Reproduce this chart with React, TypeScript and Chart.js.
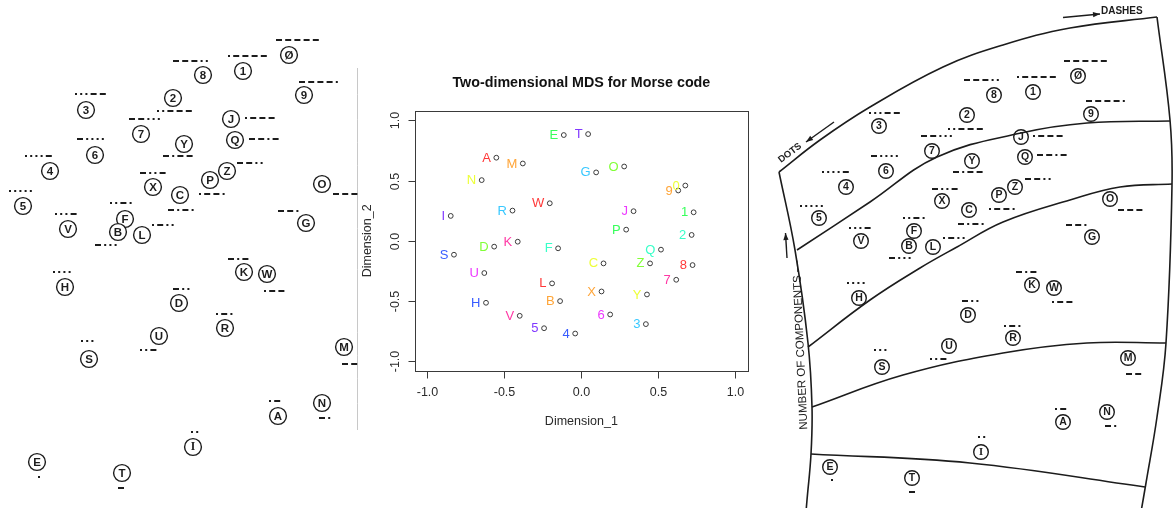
import React, { useEffect, useRef } from "react";
import { Chart, registerables } from "chart.js";
Chart.register(...registerables);

const FONT = '"Liberation Sans", Arial, sans-serif';

// ---------------- middle panel: R MDS plot ----------------
const MDS_LABELS = ["A","B","C","D","E","F","G","H","I","J","K","L","M","N","O","P","Q","R","S","T","U","V","W","X","Y","Z","1","2","3","4","5","6","7","8","9","0"];
const DIM_1 = [-0.552,-0.138,0.144,-0.566,-0.114,-0.151,0.096,-0.619,-0.848,0.339,-0.413,-0.19,-0.38,-0.647,0.278,0.291,0.517,-0.447,-0.827,0.044,-0.63,-0.4,-0.205,0.131,0.426,0.446,0.729,0.716,0.419,-0.04,-0.242,0.187,0.616,0.722,0.629,0.675];
const DIM_2 = [0.69,-0.5,-0.187,-0.048,0.878,-0.062,0.568,-0.514,0.207,0.246,-0.007,-0.353,0.642,0.504,0.617,0.093,-0.073,0.251,-0.115,0.886,-0.267,-0.622,0.312,-0.42,-0.445,-0.187,0.237,0.049,-0.691,-0.769,-0.725,-0.611,-0.323,-0.201,0.418,0.459];
const RAINBOW_11 = ["#FF0000","#FF8B00","#E8FF00","#5DFF00","#00FF2E","#00FFB9","#00B9FF","#002EFF","#5D00FF","#E800FF","#FF008B"];
const AXIS_TICKS = [-1, -0.5, 0, 0.5, 1];
const TICK_LABELS = ["-1.0", "-0.5", "0.0", "0.5", "1.0"];
const AXIS_MIN = -1.08;
const AXIS_MAX = 1.08;
const MDS_TITLE = "Two-dimensional MDS for Morse code";
const X_TITLE = "Dimension_1";
const Y_TITLE = "Dimension_2";

// ---------------- left panel: scanned configuration ----------------
const LEFT_SYMBOLS = ["Ø","1","8","2","9","3","J","7","Q","Y","6","4","Z","P","X","O","C","5","F","V","G","B","L","K","W","H","D","R","U","S","M","A","N","I","E","T"];
const LEFT_X = [289,243,203,173,304,86,231,141,235,184,95,50,227,210,153,322,180,23,125,68,306,118,142,244,267,65,179,225,159,89,344,278,322,193,37,122];
const LEFT_Y = [55,71,75,98,95,110,119,134,140,144,155,171,171,180,187,184,195,206,219,229,223,232,235,272,274,287,303,328,336,359,347,416,403,447,462,473];
const LEFT_MORSE = ["-----",".----","---..","..---","----.","...--",".---","--...","--.-","-.--","-....","....-","--..",".--.","-..-","---","-.-.",".....","..-.","...-","--.","-...",".-..","-.-",".--","....","-..",".-.","..-","...","--",".-","-.","..",".","-"];
const LEFT_MX = [276,228,173,157,299,75,245,129,249,163,77,25,237,199,140,333,168,9,110,55,278,95,152,228,264,53,173,216,140,81,342,269,319,191,38,118];
const LEFT_MY = [40,56,61,111,82,94,118,119,139,156,139,156,163,194,173,194,210,191,203,214,211,245,225,259,291,272,289,314,350,341,364,401,418,432,477,488];
const LEFT_EDGE: number[][] = [[357.5, 68], [357.5, 430]];

// ---------------- right panel: Shepard's diagram ----------------
const RIGHT_SYMBOLS = ["Ø","1","8","9","2","3","J","7","Q","Y","6","4","Z","P","X","O","C","5","F","V","G","B","L","H","K","W","D","R","U","S","M","A","N","I","E","T"];
const RIGHT_X = [1078,1033,994,1091,967,879,1021,932,1025,972,886,846,1015,999,942,1110,969,819,914,861,1092,909,933,859,1032,1054,968,1013,949,882,1128,1063,1107,981,830,912];
const RIGHT_Y = [76,92,95,114,115,126,137,151,157,161,171,187,187,195,201,199,210,218,231,241,237,246,247,298,285,288,315,338,346,367,358,422,412,452,467,478];
const RIGHT_MORSE = ["-----",".----","---..","----.","..---","...--",".---","--...","--.-","-.--","-....","....-","--..",".--.","-..-","---","-.-.",".....","..-.","...-","--.","-...",".-..","....","-.-",".--","-..",".-.","..-","...","--",".-","-.","..",".","-"];
const RIGHT_MX = [1064,1017,964,1086,948,869,1033,921,1037,953,871,822,1025,989,932,1118,958,800,903,849,1066,889,943,847,1016,1052,962,1004,930,874,1126,1055,1105,978,831,909];
const RIGHT_MY = [61,77,80,101,129,113,136,136,155,172,156,172,179,209,189,210,224,206,218,228,225,258,238,283,272,302,301,326,359,350,374,409,426,437,480,492];
const CURVE_TOP: number[][] = [[779,172],[820,140],[870,107],[943,67],[1003,45],[1070,28],[1157,17]];
const CURVE_LEFT: number[][] = [[779,172],[795,250],[808,343],[812,407],[811,454],[807,500],[806,512]];
const CURVE_RIGHT: number[][] = [[1157,17],[1170,120],[1172,185],[1166,343],[1157,417],[1146,483],[1141,512]];
const CURVE_1: number[][] = [[797,250],[870,202],[937,157],[1021,133],[1087,123],[1170,121]];
const CURVE_2: number[][] = [[808,347],[870,300],[920,268],[957,247],[1003,222],[1070,200],[1120,187],[1172,184]];
const CURVE_3: number[][] = [[812,407],[903,375],[1003,353],[1087,343],[1166,343]];
const CURVE_4: number[][] = [[811,454],[970,463],[1145,487]];

function lighten(hex: string, amt: number) {
  const n = parseInt(hex.slice(1), 16);
  const r = (n >> 16) & 255, g = (n >> 8) & 255, b = n & 255;
  const m = (c: number) => Math.round(c + (255 - c) * amt);
  return `rgb(${m(r)},${m(g)},${m(b)})`;
}

function drawMorse(ctx: CanvasRenderingContext2D, code: string, x: number, y: number) {
  const dot = 2, dash = 6, gap = 3.2, th = 2;
  let cx = x;
  for (const ch of code) {
    const w = ch === "." ? dot : dash;
    ctx.fillRect(cx, y - th / 2, w, th);
    cx += w + gap;
  }
}

function drawArrow(ctx: CanvasRenderingContext2D, x1: number, y1: number, x2: number, y2: number) {
  ctx.beginPath();
  ctx.moveTo(x1, y1);
  ctx.lineTo(x2, y2);
  ctx.stroke();
  const a = Math.atan2(y2 - y1, x2 - x1);
  const L = 7, Wd = 2.6;
  ctx.beginPath();
  ctx.moveTo(x2, y2);
  ctx.lineTo(x2 - L * Math.cos(a) + Wd * Math.sin(a), y2 - L * Math.sin(a) - Wd * Math.cos(a));
  ctx.lineTo(x2 - L * Math.cos(a) - Wd * Math.sin(a), y2 - L * Math.sin(a) + Wd * Math.cos(a));
  ctx.closePath();
  ctx.fill();
}

function sideChart(
  canvas: HTMLCanvasElement,
  xMin: number, xMax: number,
  symbols: string[], xs: number[], ys: number[],
  morse: string[], mxs: number[], mys: number[],
  curves: { pts: number[][]; color: string; width: number }[],
  radius: number, letterFont: string,
  extra?: (ctx: CanvasRenderingContext2D, sx: any, sy: any) => void
) {
  const labelPlugin = {
    id: "circledLabels",
    afterDatasetsDraw(chart: any) {
      const ctx = chart.ctx as CanvasRenderingContext2D;
      const sx = chart.scales.x, sy = chart.scales.y;
      ctx.save();
      ctx.fillStyle = "#1c1c1c";
      ctx.textAlign = "center";
      ctx.textBaseline = "middle";
      symbols.forEach((s, i) => {
        const px = sx.getPixelForValue(xs[i]);
        const py = sy.getPixelForValue(ys[i]);
        ctx.font = s === "I" ? `bold ${letterFont} "Liberation Serif", serif` : `bold ${letterFont} ${FONT}`;
        ctx.fillText(s, px, py + 0.5);
        drawMorse(ctx, morse[i], sx.getPixelForValue(mxs[i]), sy.getPixelForValue(mys[i]));
      });
      if (extra) extra(ctx, sx, sy);
      ctx.restore();
    },
  };
  return new Chart(canvas, {
    type: "scatter",
    data: {
      datasets: [
        ...curves.map((c) => ({
          data: c.pts.map((p) => ({ x: p[0], y: p[1] })),
          showLine: true,
          tension: 0.4,
          pointRadius: 0,
          borderColor: c.color,
          borderWidth: c.width,
          fill: false,
          clip: false,
        })),
        {
          data: xs.map((x, i) => ({ x, y: ys[i] })),
          pointRadius: radius,
          pointHoverRadius: radius,
          borderWidth: 1.4,
          borderColor: "#1c1c1c",
          backgroundColor: "#ffffff",
          clip: false,
        },
      ],
    },
    options: {
      animation: false,
      responsive: false,
      events: [],
      layout: { padding: 0, autoPadding: false },
      plugins: { legend: { display: false }, tooltip: { enabled: false }, title: { display: false } },
      scales: {
        x: { type: "linear", display: false, min: xMin, max: xMax },
        y: { type: "linear", display: false, min: 0, max: 508, reverse: true },
      },
    } as any,
    plugins: [labelPlugin],
  });
}

export default function App() {
  const leftRef = useRef<HTMLCanvasElement>(null);
  const midRef = useRef<HTMLCanvasElement>(null);
  const rightRef = useRef<HTMLCanvasElement>(null);

  useEffect(() => {
    const charts: Chart[] = [];

    // ---- middle chart
    const mdsPlugin = {
      id: "rStyle",
      afterDatasetsDraw(chart: any) {
        const ctx = chart.ctx as CanvasRenderingContext2D;
        const sx = chart.scales.x, sy = chart.scales.y;
        ctx.save();
        ctx.font = `13px ${FONT}`;
        ctx.textAlign = "right";
        ctx.textBaseline = "middle";
        MDS_LABELS.forEach((lab, i) => {
          ctx.fillStyle = lighten(RAINBOW_11[i % 11], 0.22);
          ctx.fillText(lab, sx.getPixelForValue(DIM_1[i]) - 5.5, sy.getPixelForValue(DIM_2[i]) + 0.5);
        });
        ctx.restore();
      },
      afterDraw(chart: any) {
        const ctx = chart.ctx as CanvasRenderingContext2D;
        const ca = chart.chartArea;
        const sx = chart.scales.x, sy = chart.scales.y;
        ctx.save();
        ctx.strokeStyle = "#3a3a3a";
        ctx.lineWidth = 1;
        const l = Math.round(ca.left) + 0.5, t = Math.round(ca.top) + 0.5;
        const r = Math.round(ca.right) + 0.5, b = Math.round(ca.bottom) + 0.5;
        ctx.strokeRect(l, t, r - l, b - t);
        ctx.fillStyle = "#2a2a2a";
        ctx.font = `12.5px ${FONT}`;
        ctx.textAlign = "center";
        ctx.textBaseline = "middle";
        AXIS_TICKS.forEach((v, i) => {
          const px = Math.round(sx.getPixelForValue(v)) + 0.5;
          ctx.beginPath();
          ctx.moveTo(px, b);
          ctx.lineTo(px, b + 7);
          ctx.stroke();
          ctx.fillText(TICK_LABELS[i], px, b + 21);
        });
        AXIS_TICKS.forEach((v, i) => {
          const py = Math.round(sy.getPixelForValue(v)) + 0.5;
          ctx.beginPath();
          ctx.moveTo(l, py);
          ctx.lineTo(l - 7, py);
          ctx.stroke();
          ctx.save();
          ctx.translate(l - 20, py);
          ctx.rotate(-Math.PI / 2);
          ctx.fillText(TICK_LABELS[i], 0, 0);
          ctx.restore();
        });
        const cx = (ca.left + ca.right) / 2;
        const cy = (ca.top + ca.bottom) / 2;
        ctx.fillText(X_TITLE, cx, b + 50);
        ctx.save();
        ctx.translate(l - 48, cy);
        ctx.rotate(-Math.PI / 2);
        ctx.fillText(Y_TITLE, 0, 0);
        ctx.restore();
        ctx.fillStyle = "#111";
        ctx.font = `bold 14.3px ${FONT}`;
        ctx.fillText(MDS_TITLE, cx, ca.top - 28);
        ctx.restore();
      },
    };
    if (midRef.current) {
      charts.push(
        new Chart(midRef.current, {
          type: "scatter",
          data: {
            datasets: [
              {
                data: DIM_1.map((x, i) => ({ x, y: DIM_2[i] })),
                pointRadius: 2.4,
                pointHoverRadius: 2.4,
                borderWidth: 1,
                borderColor: "#3a3a3a",
                backgroundColor: "rgba(0,0,0,0)",
              },
            ],
          },
          options: {
            animation: false,
            responsive: false,
            events: [],
            layout: { padding: { left: 55, right: 22.3, top: 110.7, bottom: 137 }, autoPadding: false },
            plugins: { legend: { display: false }, tooltip: { enabled: false } },
            scales: {
              x: { type: "linear", display: false, min: AXIS_MIN, max: AXIS_MAX },
              y: { type: "linear", display: false, min: AXIS_MIN, max: AXIS_MAX },
            },
          } as any,
          plugins: [mdsPlugin],
        })
      );
    }

    // ---- left chart
    if (leftRef.current) {
      charts.push(
        sideChart(
          leftRef.current, 0, 360,
          LEFT_SYMBOLS, LEFT_X, LEFT_Y, LEFT_MORSE, LEFT_MX, LEFT_MY,
          [{ pts: LEFT_EDGE, color: "#c8c8c8", width: 1 }],
          8.4, "11.5px"
        )
      );
    }

    // ---- right chart
    if (rightRef.current) {
      const curveStyle = (pts: number[][]) => ({ pts, color: "#1c1c1c", width: 1.6 });
      charts.push(
        sideChart(
          rightRef.current, 770, 1176,
          RIGHT_SYMBOLS, RIGHT_X, RIGHT_Y, RIGHT_MORSE, RIGHT_MX, RIGHT_MY,
          [CURVE_TOP, CURVE_LEFT, CURVE_RIGHT, CURVE_1, CURVE_2, CURVE_3, CURVE_4].map(curveStyle),
          7.3, "10.5px",
          (ctx, sx, sy) => {
            const X = (v: number) => sx.getPixelForValue(v);
            const Y = (v: number) => sy.getPixelForValue(v);
            ctx.fillStyle = "#1c1c1c";
            ctx.strokeStyle = "#1c1c1c";
            ctx.lineWidth = 1.4;
            ctx.font = `bold 10px ${FONT}`;
            ctx.textAlign = "left";
            ctx.textBaseline = "middle";
            ctx.fillText("DASHES", X(1101), Y(11));
            drawArrow(ctx, X(1063), Y(17.5), X(1100), Y(14));
            ctx.save();
            ctx.translate(X(790), Y(153));
            ctx.rotate((-37 * Math.PI) / 180);
            ctx.textAlign = "center";
            ctx.font = `bold 9.5px ${FONT}`;
            ctx.fillText("DOTS", 0, 0);
            ctx.restore();
            drawArrow(ctx, X(834), Y(122), X(806), Y(142));
            ctx.save();
            ctx.translate(X(800.5), Y(345));
            ctx.rotate((-92.5 * Math.PI) / 180);
            ctx.textAlign = "center";
            ctx.font = `11.5px ${FONT}`;
            ctx.fillText("NUMBER OF COMPONENTS —", 0, 0);
            ctx.restore();
            drawArrow(ctx, X(787), Y(258), X(785.5), Y(233));
          }
        )
      );
    }

    return () => charts.forEach((c) => c.destroy());
  }, []);

  return (
    <div style={{ position: "fixed", left: 0, top: 0, width: 1176, height: 508, background: "#fff", overflow: "hidden" }}>
      <canvas ref={leftRef} width={360} height={508} style={{ position: "absolute", left: 0, top: 0 }} />
      <canvas ref={midRef} width={410} height={508} style={{ position: "absolute", left: 360, top: 0 }} />
      <canvas ref={rightRef} width={406} height={508} style={{ position: "absolute", left: 770, top: 0 }} />
    </div>
  );
}
